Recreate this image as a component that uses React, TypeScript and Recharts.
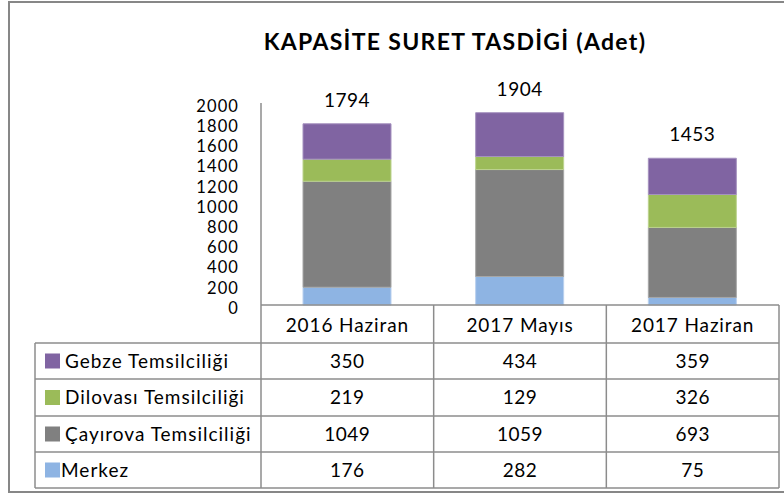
import React from 'react';
import { Bar, BarChart, LabelList, XAxis, YAxis } from 'recharts';

const categories = ['2016 Haziran', '2017 Mayıs', '2017 Haziran'];
const merkez = [176, 282, 75];
const cayirova = [1049, 1059, 693];
const dilovasi = [219, 129, 326];
const gebze = [350, 434, 359];
const yTicks = [0, 200, 400, 600, 800, 1000, 1200, 1400, 1600, 1800, 2000];

const series = [
  { key: 'gebze', name: 'Gebze Temsilciliği', values: gebze, color: '#8064A2' },
  { key: 'dilovasi', name: 'Dilovası Temsilciliği', values: dilovasi, color: '#9BBB59' },
  { key: 'cayirova', name: 'Çayırova Temsilciliği', values: cayirova, color: '#808080' },
  { key: 'merkez', name: 'Merkez', values: merkez, color: '#8EB4E3' },
];

const chartData = categories.map((c, i) => ({
  category: c,
  merkez: merkez[i],
  cayirova: cayirova[i],
  dilovasi: dilovasi[i],
  gebze: gebze[i],
  total: merkez[i] + cayirova[i] + dilovasi[i] + gebze[i],
}));

const W = 784;
const H = 494;
const FONT = 'Lato, "Open Sans", sans-serif';
const LINE = '#8c8c8c';

// table geometry
const plotLeft = 261;
const plotRight = 779;
const tableLeft = 35;
const headerTop = 305;
const rowTops = [343, 379, 416, 452];
const tableBottom = 488;
const colWidth = (plotRight - plotLeft) / categories.length;

const TotalLabel = (props: any) => {
  const { x, y, width, index } = props;
  return (
    <text x={x + width / 2} y={y - 17} textAnchor="middle" fontSize={19} letterSpacing={0.5} fontFamily={FONT} fill="#000">
      {chartData[index].total}
    </text>
  );
};

const CategoryTick = (props: any) => {
  const { x, payload } = props;
  return (
    <text x={x} y={headerTop + 20} dy="0.35em" textAnchor="middle" fontSize={19} letterSpacing={0.9} fontFamily={FONT} fill="#000">
      {payload.value}
    </text>
  );
};

const TableOverlay = () => {
  const rowEdges = [...rowTops, tableBottom];
  return (
    <svg width={W} height={H} style={{ position: 'absolute', left: 0, top: 0, pointerEvents: 'none' }}>
      <rect x={9} y={2} width={W} height={490} fill="none" stroke="#878787" strokeWidth={2} />
      <text x={455} y={50} textAnchor="middle" fontSize={23} letterSpacing={1.3} fontWeight={700} fontFamily={FONT} fill="#000">
        KAPASİTE SURET TASDİGİ (Adet)
      </text>
      {/* horizontal lines */}
      {rowEdges.map((y, i) => (
        <line key={'h' + i} x1={tableLeft} x2={plotRight} y1={y} y2={y} stroke={LINE} strokeWidth={1.5} />
      ))}
      {/* vertical lines */}
      <line x1={tableLeft} x2={tableLeft} y1={rowTops[0]} y2={tableBottom} stroke={LINE} strokeWidth={1.5} />
      {categories.map((_, i) => (
        <line key={'v' + i} x1={plotLeft + i * colWidth} x2={plotLeft + i * colWidth} y1={headerTop} y2={tableBottom} stroke={LINE} strokeWidth={1.5} />
      ))}
      <line x1={plotRight} x2={plotRight} y1={headerTop} y2={tableBottom} stroke={LINE} strokeWidth={1.5} />
      {series.map((s, r) => {
        const cy = (rowEdges[r] + rowEdges[r + 1]) / 2;
        return (
          <g key={s.key}>
            <rect x={45} y={cy - 7.5} width={15} height={15} fill={s.color} />
            <text x={s.key === 'merkez' ? 61 : 65} y={cy} dy="0.35em" fontSize={19} letterSpacing={1} fontFamily={FONT} fill="#000">
              {s.name}
            </text>
            {s.values.map((v, i) => (
              <text key={i} x={plotLeft + (i + 0.5) * colWidth} y={cy} dy="0.35em" textAnchor="middle" fontSize={19} letterSpacing={0.5} fontFamily={FONT} fill="#000">
                {v}
              </text>
            ))}
          </g>
        );
      })}
    </svg>
  );
};

export default function App() {
  return (
    <div style={{ position: 'absolute', left: 0, top: 0, width: W, height: H, background: '#fff' }}>
      <BarChart width={W} height={H} data={chartData} margin={{ top: 103, right: W - plotRight, bottom: 151, left: 0 }} barSize={88}>
        <XAxis
          dataKey="category"
          height={38}
          axisLine={{ stroke: LINE, strokeWidth: 1.5 }}
          tickLine={false}
          tick={<CategoryTick />}
          interval={0}
        />
        <YAxis
          width={plotLeft}
          domain={[0, 2000]}
          ticks={yTicks}
          interval={0}
          tickLine={false}
          tickSize={0}
          tickMargin={22}
          axisLine={{ stroke: '#8c8c8c', strokeWidth: 1.5 }}
          tick={{ fontSize: 16.5, fontFamily: FONT, fill: '#000', dy: 3, letterSpacing: 1.1 }}
        />
        <Bar dataKey="merkez" stackId="a" fill="#8EB4E3" stroke="#B9D0EE" strokeWidth={1} isAnimationActive={false} />
        <Bar dataKey="cayirova" stackId="a" fill="#808080" stroke="#A6A6A6" strokeWidth={1} isAnimationActive={false} />
        <Bar dataKey="dilovasi" stackId="a" fill="#9BBB59" stroke="#BCD38F" strokeWidth={1} isAnimationActive={false} />
        <Bar dataKey="gebze" stackId="a" fill="#8064A2" stroke="#A592BF" strokeWidth={1} isAnimationActive={false}>
          <LabelList dataKey="total" content={<TotalLabel />} />
        </Bar>
      </BarChart>
      <TableOverlay />
    </div>
  );
}
